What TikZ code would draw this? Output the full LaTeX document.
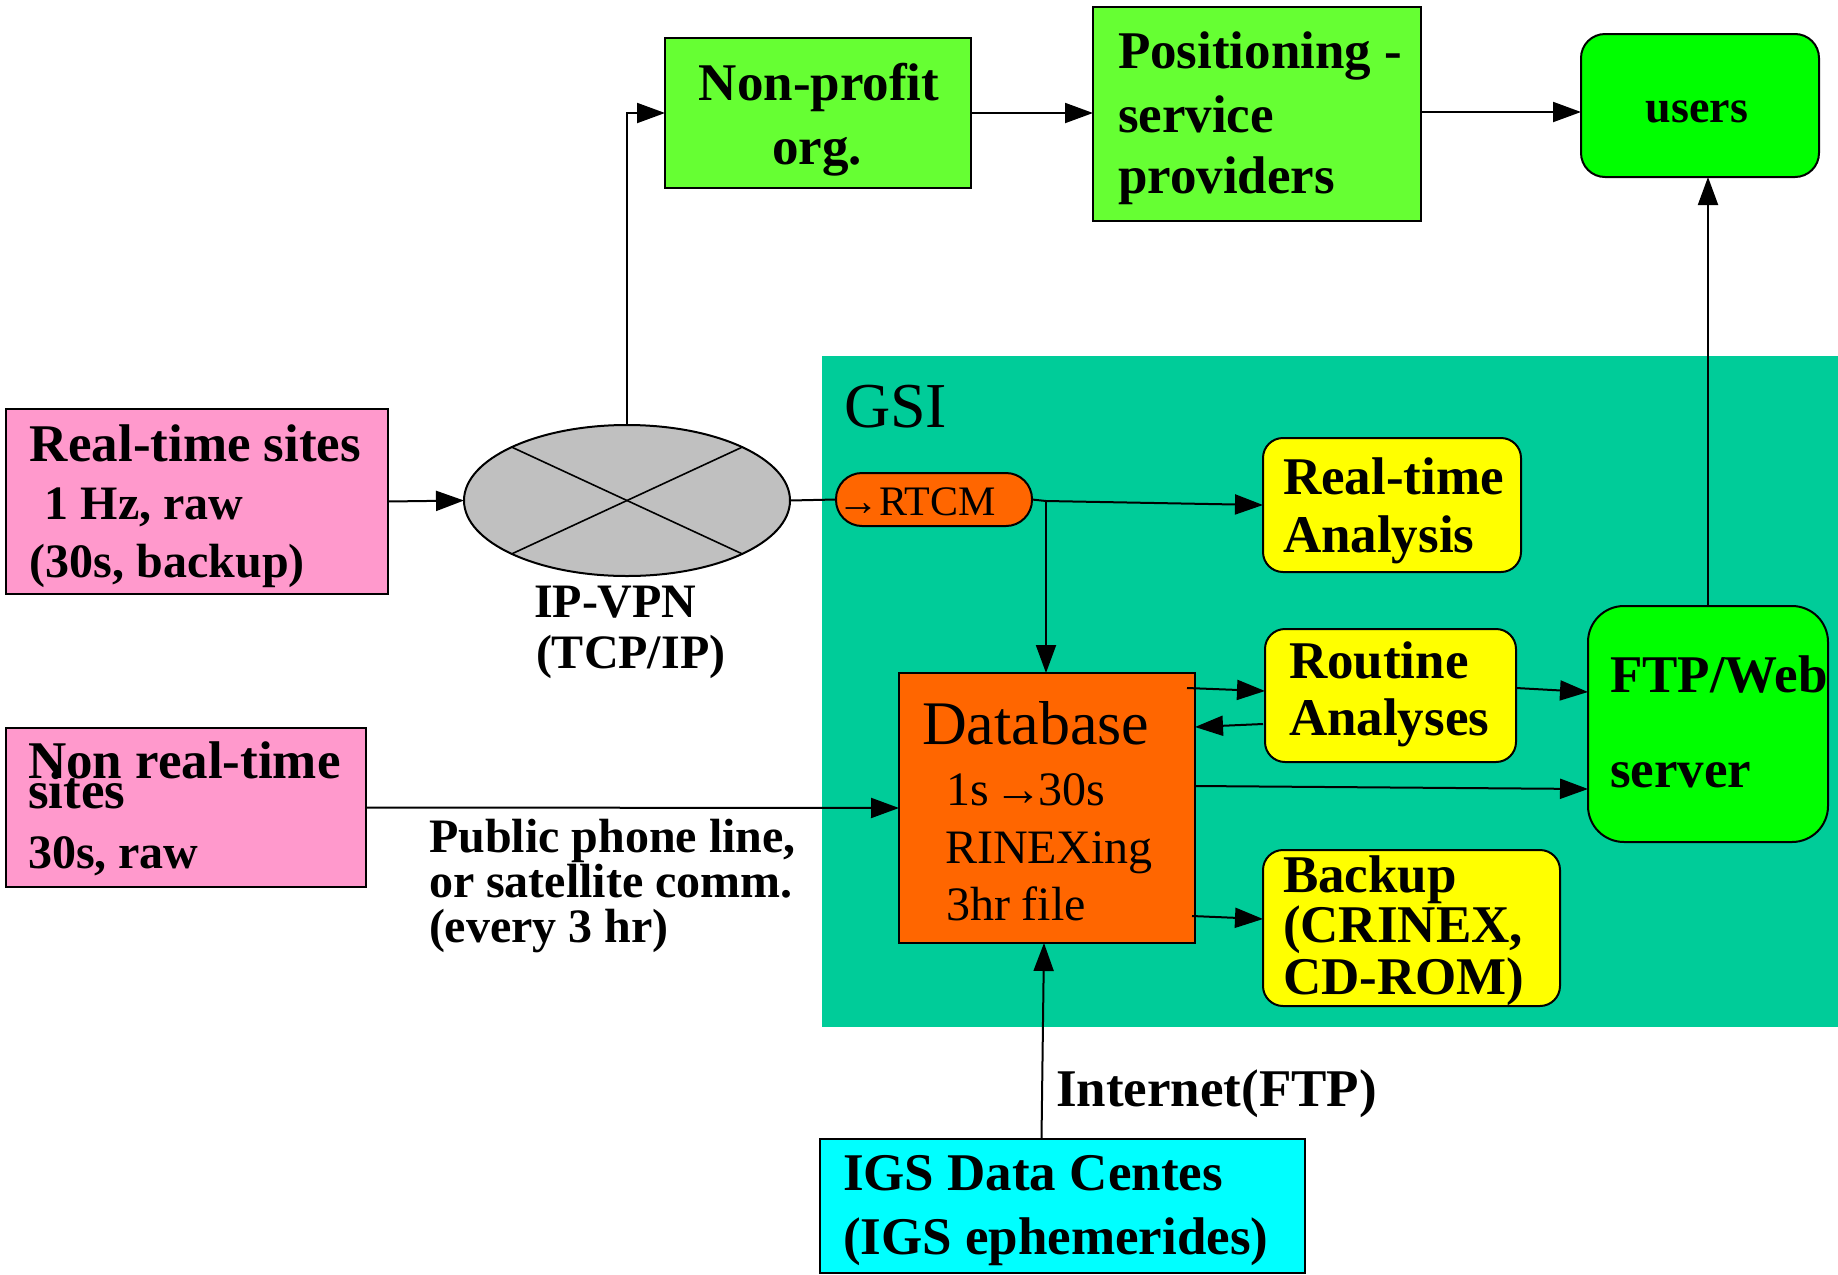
\documentclass[tikz,border=0pt]{standalone}
\usepackage{fontspec}
\setmainfont{Liberation Serif}
\usetikzlibrary{arrows.meta,calc,shapes.geometric}
\definecolor{pinkc}{HTML}{FF99CC}
\definecolor{grayc}{HTML}{C0C0C0}
\definecolor{lgreen}{HTML}{66FF33}
\definecolor{fgreen}{HTML}{00FF00}
\definecolor{tealc}{HTML}{00CC99}
\definecolor{orangec}{HTML}{FF6600}
\definecolor{yellowc}{HTML}{FFFF00}
\definecolor{cyanc}{HTML}{00FFFF}
\begin{document}
\begin{tikzpicture}[x=0.5pt,y=-0.5pt,line width=1pt,
  arr/.style={-{Triangle[length=14pt,width=10pt]}},
  box/.style={draw=black,line width=1pt,inner sep=0pt,outer sep=0pt},
  rbox/.style={box,rounded corners=10pt},
  bt/.style={anchor=base west,inner sep=0pt,font=\bfseries\fontsize{26.5}{30}\selectfont},
  bc/.style={bt,anchor=base},
  lt/.style={anchor=base west,inner sep=0pt,font=\bfseries\fontsize{24}{28}\selectfont},
  rt/.style={anchor=base west,inner sep=0pt,font=\fontsize{24}{28}\selectfont}]
\useasboundingbox (0,0) rectangle (1838,1275);
% GSI area
\fill[tealc] (822,356) rectangle (1838,1027);
\node[anchor=base west,inner sep=0pt,font=\fontsize{32}{36}\selectfont] (gsi) at (843,427) {GSI};
% boxes
\node[box,fill=pinkc,minimum width=191pt,minimum height=92.5pt] (rts) at (197,501.5) {};
\node[box,fill=pinkc,minimum width=180pt,minimum height=79.5pt] (nrt) at (186,807.5) {};
\node[box,ellipse,fill=grayc,minimum width=163pt,minimum height=75.5pt] (vpn) at (627,500.5) {};
\draw[line width=0.8pt] (vpn.north east) -- (vpn.south west);
\draw[line width=0.8pt] (vpn.north west) -- (vpn.south east);
\node[box,fill=lgreen,minimum width=153pt,minimum height=75pt] (np) at (818,113) {};
\node[box,fill=lgreen,minimum width=164pt,minimum height=107pt] (pos) at (1257,114) {};
\node[box,fill=fgreen,rounded corners=12pt,minimum width=119pt,minimum height=71.5pt] (users) at (1700,105.5) {};
\node[box,fill=orangec,rounded corners=13pt,minimum width=98pt,minimum height=26.5pt] (rtcm) at (934,499.5) {};
\node[rbox,fill=yellowc,minimum width=129pt,minimum height=67pt] (rta) at (1392,505) {};
\node[rbox,fill=yellowc,minimum width=125.5pt,minimum height=66.5pt] (rout) at (1390.5,695.5) {};
\node[box,fill=fgreen,rounded corners=18pt,minimum width=120pt,minimum height=118pt] (ftp) at (1708,724) {};
\node[box,fill=orangec,minimum width=148pt,minimum height=135pt] (db) at (1047,808) {};
\node[rbox,fill=yellowc,minimum width=148.5pt,minimum height=78pt] (bak) at (1411.5,928) {};
\node[box,fill=cyanc,minimum width=242.5pt,minimum height=67pt] (igs) at (1062.5,1206) {};
% connectors
\draw[arr] (rts.east) -- (vpn.west);
\draw[arr] (vpn.north) |- (np.west);
\draw[arr] (np.east) -- (np.east -| pos.west);
\draw[arr] ($(pos.east)+(0,-2)$) -- ($(pos.east -| users.west)+(0,-2)$);
\draw (vpn.east) -- (rtcm.west);
\coordinate (j) at (1046,501);
\draw (rtcm.east) -- (j);
\draw[arr] (j) -- ($(rta.west)+(0,0)$);
\draw[arr] (j) -- (j |- db.north);
\draw[arr] ($(db.north east)+(-8,15)$) -- ($(rout.west)+(0,-4.5)$);
\draw[arr] ($(rout.west)+(-2,28.5)$) -- ($(db.north east)+(0,54)$);
\draw[arr] ($(rout.east)+(0,-7.5)$) -- ($(ftp.west)+(0,-32)$);
\draw[arr] ($(db.east)+(0,-22)$) -- ($(ftp.west)+(0,65)$);
\draw[arr] ($(db.east)+(-3,108)$) -- ($(bak.west)+(0,-9)$);
\draw[arr] (ftp.north) -- (ftp.north |- users.south);
\draw[arr] (nrt.east) -- (db.west);
\draw[arr] ($(igs.north)+(-21,0)$) -- ($(db.south)+(-3,0)$);
% texts
\node[bt] (rts1) at (29,461) {Real-time sites};
\node[lt] (rts2) at (44,519) {1 Hz, raw};
\node[lt] (rts3) at (29,577) {(30s, backup)};
\node[bt] (nrt1) at (27,778) {Non real-time};
\node[bt] (nrt2) at (27,808) {sites};
\node[lt] (nrt3) at (27,868) {30s, raw};
\node[lt] (vpn1) at (533,617) {IP-VPN};
\node[lt] (vpn2) at (535,668) {(TCP/IP)};
\node[bc] (np1) at (819,100) {Non-profit};
\node[bc] (np2) at (817,164) {org.};
\node[bt] (pos1) at (1117,68) {Positioning -};
\node[bt] (pos2) at (1117,132) {service};
\node[bt] (pos3) at (1117,193) {providers};
\node[anchor=base,inner sep=0pt,font=\bfseries\fontsize{23}{27}\selectfont] (users1) at (1697,122) {users};
\node[anchor=base west,inner sep=0pt,font=\fontsize{21}{25}\selectfont] (rtcm1) at (836,515) {→RTCM};
\node[bt] (rta1) at (1282,494) {Real-time};
\node[bt] (rta2) at (1282,552) {Analysis};
\node[bt] (rout1) at (1288,678) {Routine};
\node[bt] (rout2) at (1288,735) {Analyses};
\node[bt] (ftp1) at (1609,692) {FTP/Web};
\node[bt] (ftp2) at (1609,787) {server};
\node[anchor=base west,inner sep=0pt,font=\fontsize{31}{35}\selectfont] (db1) at (921,744) {Database};
\node[rt] (db2) at (945,805) {1s \kern-3pt→\kern-2pt30s};
\node[rt] (db3) at (944,863) {RINEXing};
\node[rt] (db4) at (945,920) {3hr file};
\node[bt] (bak1) at (1282,892) {Backup};
\node[bt] (bak2) at (1282,942) {(CRINEX,};
\node[bt] (bak3) at (1282,994) {CD-ROM)};
\node[lt] (ph1) at (428,852) {Public phone line,};
\node[lt] (ph2) at (428,897) {or satellite comm.};
\node[lt] (ph3) at (428,942) {(every 3 hr)};
\node[bt] (inet) at (1055,1106) {Internet(FTP)};
\node[bt] (igs1) at (842,1190) {IGS Data Centes};
\node[bt] (igs2) at (842,1254) {(IGS ephemerides)};
\end{tikzpicture}
\end{document}
